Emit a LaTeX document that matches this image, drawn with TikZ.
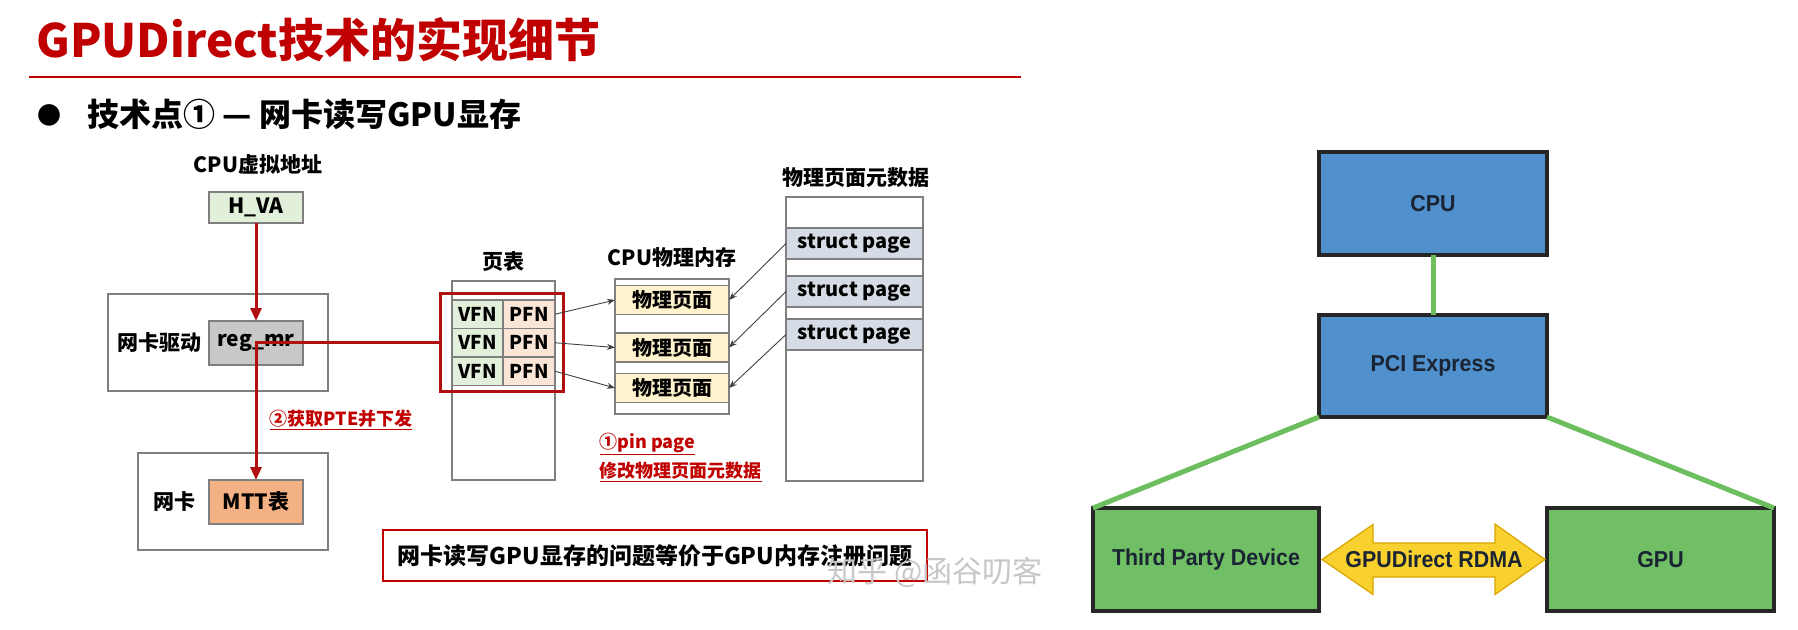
\documentclass[tikz,border=0pt]{standalone}
\usepackage{fontspec}
\setmainfont{Noto Sans CJK SC}
\newfontfamily\narrowfont[FakeStretch=0.93]{Liberation Sans}
\usetikzlibrary{arrows.meta,calc}

\definecolor{slidered}{HTML}{C00000}
\definecolor{linered}{HTML}{B01010}
\definecolor{boxgray}{HTML}{7F7F7F}
\definecolor{vagreen}{HTML}{E2EFDA}
\definecolor{regfill}{HTML}{C8C8C8}
\definecolor{mttfill}{HTML}{F4B183}
\definecolor{pfnfill}{HTML}{FBE5D6}
\definecolor{pagefill}{HTML}{FFF2CC}
\definecolor{structfill}{HTML}{D6DCE5}
\definecolor{busblue}{HTML}{5090CD}
\definecolor{devgreen}{HTML}{70BF65}
\definecolor{linkgreen}{HTML}{6DBE5E}
\definecolor{rdmafill}{HTML}{F9D12E}
\definecolor{rdmaedge}{HTML}{D9A400}
\definecolor{devtext}{HTML}{1A2433}

\tikzset{
  frame/.style={draw=boxgray, line width=1.2pt, inner sep=0pt, outer sep=0pt},
  cell/.style={frame, font=\fontsize{19}{21}\selectfont\bfseries},
  caption/.style={font=\fontsize{21}{24}\selectfont\bfseries},
  note/.style={text=slidered, font=\fontsize{18}{20}\selectfont\bfseries},
  redline/.style={draw=linered, line width=3pt},
  redtip/.style={-{Triangle[length=13pt,width=11pt]}},
  thinarrow/.style={draw=black!75, line width=0.9pt, -{Stealth[length=8pt,width=6pt]}},
  hwbox/.style={draw=black!85, line width=3.5pt, inner sep=0pt, outer sep=0pt,
    text=devtext, font=\narrowfont\bfseries\fontsize{23}{26}\selectfont},
  greenlink/.style={draw=linkgreen, line width=5pt},
}

\begin{document}
\begin{tikzpicture}[x=1pt,y=-1pt]
\useasboundingbox (0,0) rectangle (1798,629);

% heading
\node[anchor=west, text=slidered, font=\fontsize{46}{50}\selectfont\bfseries] (title) at (33,40) {GPUDirect技术的实现细节};
\draw[slidered, line width=2.5pt] (29,77) -- (1021,77);
\node[font=\fontsize{24}{26}\selectfont] (dot) at (49,115) {●};
\node[anchor=west, font=\fontsize{32}{36}\selectfont\bfseries] (point) at (84,114) {技术点① — 网卡读写GPU显存};

% driver and NIC
\node[caption] (valabel) at (258,165) {CPU虚拟地址};
\node[cell, fill=vagreen, minimum width=94pt, minimum height=31pt, font=\fontsize{21}{24}\selectfont\bfseries] (hva) at (256,207.5) {H\_VA};

\node[frame, minimum width=220pt, minimum height=97pt] (drv) at (218,342.5) {};
\node[caption, anchor=west] (drvlabel) at (114,343) {网卡驱动};
\node[cell, fill=regfill, minimum width=94pt, minimum height=44pt, font=\fontsize{21}{24}\selectfont\bfseries] (regmr) at (256,343) {reg\_mr};

\node[frame, minimum width=190pt, minimum height=97pt] (nic) at (233,501.5) {};
\node[caption, anchor=west] (niclabel) at (150,502) {网卡};
\node[cell, fill=mttfill, minimum width=94pt, minimum height=44pt, font=\fontsize{21}{24}\selectfont\bfseries] (mtt) at (256,502) {MTT表};

% page table
\node[caption] (ptlabel) at (503,262) {页表};
\node[frame, minimum width=103pt, minimum height=199pt] (pt) at (503.5,380.5) {};
\foreach \i/\y in {1/314.25, 2/342.75, 3/371.25} {
  \node[cell, fill=vagreen, minimum width=51pt, minimum height=28.5pt] (vfn\i) at (477.5,\y) {VFN};
  \node[cell, fill=pfnfill, minimum width=52pt, minimum height=28.5pt] (pfn\i) at (529,\y) {PFN};
}
\node[draw=linered, line width=3pt, inner sep=0pt, outer sep=0pt, minimum width=123pt, minimum height=98pt] (ptesel) at (501.5,342) {};

% physical memory
\node[caption] (memlabel) at (672,258) {CPU物理内存};
\node[frame, minimum width=114pt, minimum height=135pt] (mem) at (672,346.5) {};
\foreach \i/\y in {1/300, 2/347.5, 3/388}
  \node[cell, fill=pagefill, minimum width=114pt, minimum height=29pt, font=\fontsize{20}{22}\selectfont\bfseries] (page\i) at (672,\y) {物理页面};

% page metadata
\node[caption] (metalabel) at (856,178) {物理页面元数据};
\node[frame, minimum width=137pt, minimum height=284pt] (meta) at (854.5,339) {};
\foreach \i/\y in {1/243.5, 2/291.5, 3/334.5}
  \node[cell, fill=structfill, minimum width=137pt, minimum height=31pt, font=\fontsize{20}{22}\selectfont\bfseries] (spage\i) at (854.5,\y) {struct page};

\foreach \i in {1,2,3} {
  \draw[thinarrow] (pfn\i.east) -- (page\i.west);
  \draw[thinarrow] (spage\i.west) -- (page\i.east);
}

% red flow
\draw[redline, redtip] (hva.south) -- (regmr.north);
\draw[redline, redtip] (ptesel.west) -| (mtt.north);

\node[note] (step2) at (341,420) {\underline{②获取PTE并下发}};
\node[note, anchor=west] (step1a) at (596,444) {\underline{①pin page}};
\node[note, anchor=west] (step1b) at (596,472) {\underline{修改物理页面元数据}};

\node[draw=slidered, line width=2.5pt, inner sep=0pt, minimum width=544pt, minimum height=51pt, font=\fontsize{23}{26}\selectfont\bfseries] (summary) at (655,555.5) {网卡读写GPU显存的问题等价于GPU内存注册问题};
\node[text=black!22, font=\fontsize{30}{32}\selectfont] (mark) at (935,572) {知乎 @函谷叨客};

% GPUDirect RDMA topology
\node[hwbox, fill=busblue, minimum width=228pt, minimum height=103pt] (cpu) at (1433,203.5) {CPU};
\node[hwbox, fill=busblue, minimum width=228pt, minimum height=102pt] (pcie) at (1433,366) {PCI Express};
\node[hwbox, fill=devgreen, minimum width=226pt, minimum height=103pt] (tpd) at (1206,559.5) {Third Party Device};
\node[hwbox, fill=devgreen, minimum width=227pt, minimum height=103pt] (gpu) at (1660.5,559.5) {GPU};

\draw[greenlink] (cpu.south) -- (pcie.north);
\draw[greenlink] (pcie.south west) -- (tpd.north west);
\draw[greenlink] (pcie.south east) -- (gpu.north east);

\path[draw=rdmaedge, fill=rdmafill, line width=1.2pt]
  ($(tpd.east)+(3,0)$) -- ++(51,-35) -- ++(0,18.5) -- ($(gpu.west)+(-52,-16.5)$)
  -- ++(0,-19) -- ($(gpu.west)+(-2,0)$) -- ++(-50,35) -- ++(0,-17.5)
  -- ($(tpd.east)+(54,17.5)$) -- ++(0,17.5) -- cycle;
\node[text=devtext, font=\narrowfont\bfseries\fontsize{23}{26}\selectfont] (rdma) at (1434,559.5) {GPUDirect RDMA};
\end{tikzpicture}
\end{document}
